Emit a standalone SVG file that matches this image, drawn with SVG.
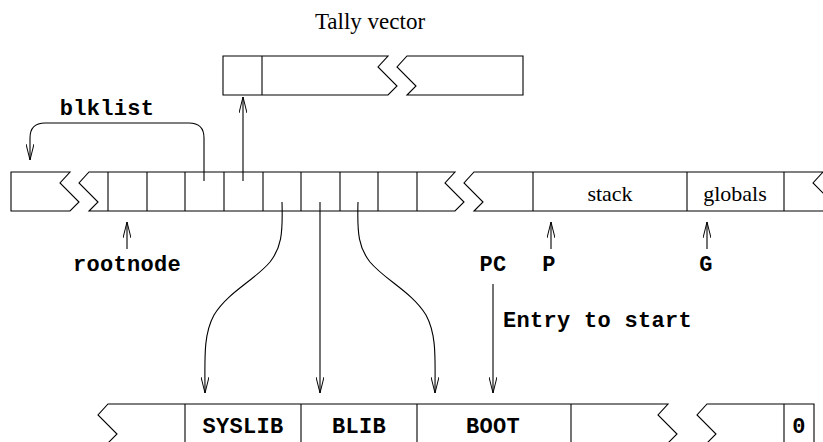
<svg xmlns="http://www.w3.org/2000/svg" width="823" height="442" viewBox="0 0 823 442">
<style>
.box{fill:#fff;stroke:#000;stroke-width:1.1}
.div{stroke:#000;stroke-width:1.1}
.ln{fill:none;stroke:#000;stroke-width:1.1}
.serif{font-family:"Liberation Serif",serif;font-size:22px;fill:#000}
.title{font-size:23px}
.mono{font-family:"Liberation Mono",monospace;font-weight:bold;font-size:22px;letter-spacing:0.3px;fill:#000}
</style>
<defs>
<marker id="ah" viewBox="0 0 16 8" refX="16" refY="4" markerWidth="16" markerHeight="8" markerUnits="userSpaceOnUse" orient="auto">
<path d="M0,0 L16,4 L0,8" fill="none" stroke="#000" stroke-width="1"/>
</marker>
</defs>
<rect width="823" height="442" fill="#fff"/>

<g id="title"><text class="serif title" x="370" y="29" text-anchor="middle">Tally vector</text></g>

<g id="tally">
<path class="box" d="M223,56 L388,56 L378,67 L397,86 L388,95 L223,95 Z"/>
<path class="box" d="M407,56 L523,56 L523,95 L407,95 L416,86 L397,67 Z"/>
<line class="div" x1="262" y1="56" x2="262" y2="95"/>
</g>

<g id="mainrow">
<path class="box" d="M11,172 L70,172 L60,183 L79,202 L70,211 L11,211 Z"/>
<path class="box" d="M89,172 L455,172 L445,183 L464,202 L455,211 L89,211 L98,202 L79,183 Z"/>
<path class="box" d="M474,172 L823,172 L813,183 L832,202 L823,211 L474,211 L483,202 L464,183 Z"/>
<g class="div">
<line x1="108" y1="172" x2="108" y2="211"/>
<line x1="147" y1="172" x2="147" y2="211"/>
<line x1="185" y1="172" x2="185" y2="211"/>
<line x1="224" y1="172" x2="224" y2="211"/>
<line x1="263" y1="172" x2="263" y2="211"/>
<line x1="301" y1="172" x2="301" y2="211"/>
<line x1="340" y1="172" x2="340" y2="211"/>
<line x1="378" y1="172" x2="378" y2="211"/>
<line x1="417" y1="172" x2="417" y2="211"/>
<line x1="533" y1="172" x2="533" y2="211"/>
<line x1="687" y1="172" x2="687" y2="211"/>
<line x1="784" y1="172" x2="784" y2="211"/>
</g>
<text class="serif" x="610" y="201" text-anchor="middle">stack</text>
<text class="serif" x="735" y="201" text-anchor="middle">globals</text>
</g>

<g id="bottomrow">
<path class="box" d="M108,404 L668,404 L658,415 L677,434 L668,443 L108,443 L117,434 L98,415 Z"/>
<path class="box" d="M707,404 L814,404 L814,443 L707,443 L716,434 L697,415 Z"/>
<g class="div">
<line x1="185" y1="404" x2="185" y2="443"/>
<line x1="301" y1="404" x2="301" y2="443"/>
<line x1="417" y1="404" x2="417" y2="443"/>
<line x1="571" y1="404" x2="571" y2="443"/>
<line x1="784" y1="404" x2="784" y2="443"/>
</g>
<text class="mono" x="243" y="433" text-anchor="middle">SYSLIB</text>
<text class="mono" x="359" y="433" text-anchor="middle">BLIB</text>
<text class="mono" x="493" y="433" text-anchor="middle">BOOT</text>
<text class="mono" x="799" y="433" text-anchor="middle">0</text>
</g>

<g id="labels">
<text class="mono" x="107" y="115" text-anchor="middle">blklist</text>
<text class="mono" x="127" y="271" text-anchor="middle">rootnode</text>
<text class="mono" x="493" y="271" text-anchor="middle">PC</text>
<text class="mono" x="549" y="271" text-anchor="middle">P</text>
<text class="mono" x="706" y="271" text-anchor="middle">G</text>
<text class="mono" x="503" y="327">Entry to start</text>
</g>

<g id="connectors" class="ln" marker-end="url(#ah)">
<path d="M204,181 L204,138 Q204,123 189,123 L45,123 Q30,123 30,138 L30,160"/>
<path d="M243,181 L243,97"/>
<path d="M127,249 L127,222"/>
<path d="M551,249 L551,222"/>
<path d="M707,249 L707,222"/>
<path d="M493,284 L493,393"/>
<path d="M320,202 L320,393"/>
<path d="M282,202 C283,235 281,248 270,262 C255,280 228,292 214,315 C203,335 205,360 205,393"/>
<path d="M358,202 C357,235 359,248 370,262 C385,280 412,292 426,315 C437,335 435,360 435,393"/>
</g>
</svg>
